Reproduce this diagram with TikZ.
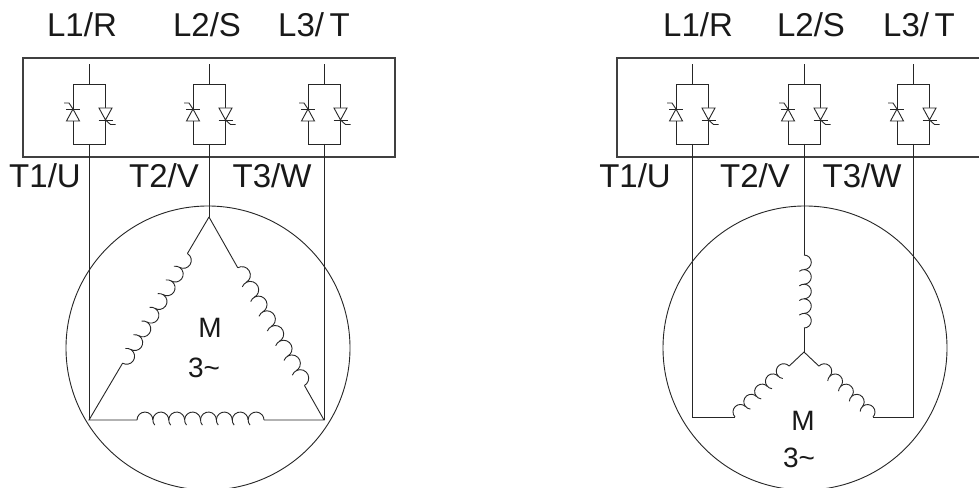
\documentclass[tikz,border=0pt]{standalone}
\usepackage{fontspec}
\setmainfont{Liberation Sans}
\usetikzlibrary{calc}
\newcommand\mycoil[4]{%
  \begin{scope}[shift={#1}, rotate=#2]
    \pgfmathsetmacro\mycd{#3/#4}
    \pgfmathsetmacro\mycr{\mycd/2}
    \draw[wire] (0,0) arc[start angle=180, end angle=0, radius=\mycr];
    \foreach \i in {2,...,#4}{
      \draw[wire] ({(\i-0.5)*\mycd+\mycr*cos(220)},{\mycr*sin(220)}) arc[start angle=220, end angle=0, radius=\mycr];
    }
  \end{scope}}
\tikzset{
  wire/.style={line width=0.9pt, draw=black!85},
  boxline/.style={line width=1.1pt, draw=black!75},
  lab/.style={font=\fontsize{33}{36}\selectfont, text=black!90, inner sep=0pt, anchor=base},
  mlab/.style={font=\fontsize{28}{30}\selectfont, text=black!90, inner sep=0pt},
  pics/thypair/.style={code={
    \draw[wire] (0,0) -- (0,20);
    \draw[wire] (-16,0) rectangle (16.5,-60);
    \draw[wire, fill=white] (-22.5,-37) -- (-9.5,-37) -- (-16,-25) -- cycle;
    \draw[wire] (-23,-25) -- (-9,-25);
    \draw[wire] (-16,-25) -- (-20,-19) -- (-25,-19);
    \draw[wire, fill=white] (10,-24) -- (23,-24) -- (16.5,-36) -- cycle;
    \draw[wire] (9.5,-36) -- (23.5,-36);
    \draw[wire] (16.5,-36) -- (21.5,-40.5) -- (26.5,-40.5);
  }}
}
\begin{document}
\begin{tikzpicture}[x=1pt, y=1pt]
\useasboundingbox (0,0) rectangle (979,487);
\clip (0,0) rectangle (979,487);
\fill[white] (0,0) rectangle (979,487);

% ---------------- left: delta ----------------
\draw[boxline] (23,330) rectangle (395,429);
\foreach \c/\n in {89/a1, 209/a2, 324/a3}{
  \pic at (\c,403) {thypair};
  \coordinate (\n) at (\c,343);
}
\node[lab] (l1a) at (82,450) {L1/R};
\node[lab] (l2a) at (207,450) {L2/S};
\node[lab] (l3a) at (314,450) {L3/\,T};
\node[lab] (t1a) at (45,299) {T1/U};
\node[lab] (t2a) at (164,299) {T2/V};
\node[lab] (t3a) at (272,299) {T3/W};

\draw[wire] (208,139) circle[radius=142];
\coordinate (dt) at (209,270);
\coordinate (dbl) at (89,67);
\coordinate (dbr) at (324,67);
\coordinate (lcs) at ($(dt)!0.18!(dbl)$);
\coordinate (lce) at ($(dt)!0.72!(dbl)$);
\coordinate (rcs) at ($(dt)!0.25!(dbr)$);
\coordinate (rce) at ($(dt)!0.83!(dbr)$);
\coordinate (bcs) at (137,67);
\coordinate (bce) at (264,67);
\draw[wire] (a1) -- (dbl);
\draw[wire] (a2) -- (dt);
\draw[wire] (a3) -- (dbr);
\draw[wire] (dt) -- (lcs);
\draw[wire] (lce) -- (dbl) -- (bcs);
\draw[wire] (bce) -- (dbr) -- (rce);
\draw[wire] (rcs) -- (dt);
\mycoil{(lcs)}{-120.59}{127.34}{8}
\mycoil{(rcs)}{-60.47}{135.32}{8}
\mycoil{(bcs)}{0}{127}{8}
\node[mlab] (m1) at (210,159) {M};
\node[mlab] (p1) at (204,119) {3\textasciitilde};

% ---------------- right: star ----------------
\draw[boxline] (617,330) rectangle (990,429);
\foreach \c/\n in {692/b1, 804/b2, 913/b3}{
  \pic at (\c,403) {thypair};
  \coordinate (\n) at (\c,343);
}
\node[lab] (l1b) at (698,450) {L1/R};
\node[lab] (l2b) at (811,450) {L2/S};
\node[lab] (l3b) at (919,450) {L3/\,T};
\node[lab] (t1b) at (635,299) {T1/U};
\node[lab] (t2b) at (755,299) {T2/V};
\node[lab] (t3b) at (862,299) {T3/W};

\draw[wire] (805,139) circle[radius=142];
\coordinate (wc) at (804,135);
\coordinate (vcs) at (804,232);
\coordinate (vce) at (804,159);
\coordinate (lwo) at (735,70);
\coordinate (lwi) at (789.1,120.9);
\coordinate (rwi) at (818.9,120.9);
\coordinate (rwo) at (873,70);
\coordinate (b1e) at (692,70);
\coordinate (b3e) at (913,70);
\draw[wire] (b2) -- (vcs);
\draw[wire] (vce) -- (wc);
\draw[wire] (lwi) -- (wc) -- (rwi);
\draw[wire] (b1) -- (b1e) -- (lwo);
\draw[wire] (b3) -- (b3e) -- (rwo);
\mycoil{(vcs)}{-90}{73}{5}
\mycoil{(lwo)}{43.3}{74.3}{5}
\mycoil{(rwi)}{-43.3}{74.3}{5}
\node[mlab] (m2) at (803,66) {M};
\node[mlab] (p2) at (799,29) {3\textasciitilde};
\end{tikzpicture}
\end{document}
